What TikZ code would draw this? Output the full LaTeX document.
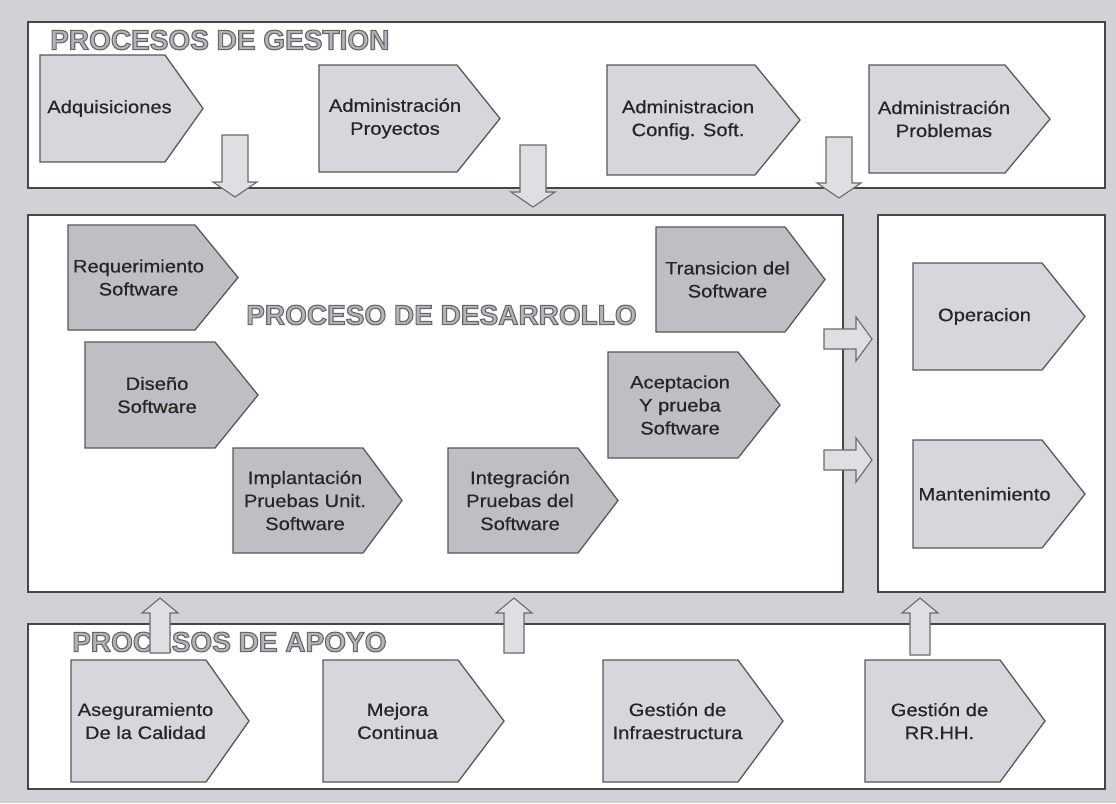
\documentclass[tikz,border=0pt]{standalone}
\usepackage{fontspec}
\setmainfont{Liberation Sans}
\newfontfamily\boxfont[FakeStretch=1.12,FakeBold=0.5]{Liberation Sans}
\newfontfamily\titlefont{Liberation Sans}
\definecolor{band}{RGB}{208,210,214}
\definecolor{frame}{RGB}{70,70,72}
\definecolor{procdark}{RGB}{190,191,196}
\definecolor{proclight}{RGB}{214,214,220}
\definecolor{arrfill}{RGB}{222,223,226}
\definecolor{ttlcol}{RGB}{180,180,186}
\tikzset{
  boxframe/.style={draw=frame, line width=1.8pt, fill=white},
  procline/.style={draw=frame!90, line width=1.3pt, line join=miter},
  proctext/.style={align=center, inner sep=0pt, text=black!85,
    font=\boxfont\fontsize{18}{23}\selectfont},
  blockarr/.style={draw=frame!80, line width=1.1pt, fill=arrfill, line join=miter},
  ttltext/.style={inner sep=0pt, anchor=west, text=ttlcol,
    font=\titlefont\bfseries\fontsize{28}{30}\selectfont},
}
% process shape: name, x1, y1, x-rect-right, x-tip, y2, fill, text
\newcommand\procbox[8]{%
  \draw[procline, fill=#7] (#2,#3) -- (#4,#3) -- (#5,{(#3+#6)/2}) -- (#4,#6) -- (#2,#6) -- cycle;
  \node[proctext] (#1) at ({(#2+#4)/2+7},{(#3+#6)/2}) {#8};
}
% down arrow: name, x, ytop, ytip
\newcommand\downarr[4]{%
  \coordinate (#1) at (#2,#4);
  \draw[blockarr] (#2-13,#3) -- (#2+13,#3) -- (#2+13,#4-15) -- (#2+22,#4-15)
    -- (#1) -- (#2-22,#4-15) -- (#2-13,#4-15) -- cycle;
}
% up arrow: name, x, ybottom, ytip
\newcommand\uparr[4]{%
  \coordinate (#1) at (#2,#4);
  \draw[blockarr] (#2-10,#3) -- (#2+10,#3) -- (#2+10,#4+15) -- (#2+18,#4+15)
    -- (#1) -- (#2-18,#4+15) -- (#2-10,#4+15) -- cycle;
}
% right arrow: name, y, xleft, xtip
\newcommand\rightarr[4]{%
  \coordinate (#1) at (#4,#2);
  \draw[blockarr] (#3,#2-10) -- (#4-16,#2-10) -- (#4-16,#2-22) -- (#1)
    -- (#4-16,#2+22) -- (#4-16,#2+10) -- (#3,#2+10) -- cycle;
}
% outlined title: name, x, y, text
\newcommand\ttl[4]{%
  \node[ttltext] (#1) at (#2,#3)
    {\special{pdf:code q 0.40 0.40 0.42 RG 1.1 w 2 Tr}#4\special{pdf:code 0 Tr Q}};
}
\begin{document}
\begin{tikzpicture}[x=1pt,y=-1pt]
\useasboundingbox (0,0) rectangle (1116,803);
\fill[band] (0,0) rectangle (1116,803);

% frames
\draw[boxframe] (28,22) rectangle (1105,188);
\draw[boxframe] (28,215) rectangle (843,592);
\draw[boxframe] (878,215) rectangle (1105,592);
\draw[boxframe] (28,624) rectangle (1105,789);

% titles
\ttl{tgest}{50}{40}{PROCESOS DE GESTION}
\ttl{tdes}{246}{315}{PROCESO DE DESARROLLO}
\ttl{tapoyo}{72}{642}{PROCESOS DE APOYO}

% gestion
\procbox{adq}{40}{55}{165}{203}{162}{proclight}{Adquisiciones}
\procbox{proy}{319}{65}{457}{500}{172}{proclight}{Administración\\Proyectos}
\procbox{conf}{607}{65}{755}{800}{175}{proclight}{Administracion\\Config. Soft.}
\procbox{prob}{869}{65}{1005}{1050}{173}{proclight}{Administración\\Problemas}

% desarrollo
\procbox{req}{68}{225}{195}{238}{330}{procdark}{Requerimiento\\Software}
\procbox{dis}{85}{342}{215}{258}{448}{procdark}{Diseño\\Software}
\procbox{imp}{233}{448}{363}{402}{553}{procdark}{Implantación\\Pruebas Unit.\\Software}
\procbox{int}{448}{448}{578}{618}{553}{procdark}{Integración\\Pruebas del\\Software}
\procbox{acep}{608}{352}{738}{780}{458}{procdark}{Aceptacion\\Y prueba\\Software}
\procbox{trans}{656}{227}{785}{825}{332}{procdark}{Transicion del\\Software}

% operacion / mantenimiento
\procbox{op}{913}{263}{1042}{1085}{370}{proclight}{Operacion}
\procbox{mant}{913}{440}{1042}{1085}{548}{proclight}{Mantenimiento}

% apoyo
\procbox{aseg}{71}{660}{206}{249}{782}{proclight}{Aseguramiento\\De la Calidad}
\procbox{mejora}{323}{660}{458}{504}{782}{proclight}{Mejora\\Continua}
\procbox{infra}{603}{660}{738}{783}{782}{proclight}{Gestión de\\Infraestructura}
\procbox{rrhh}{865}{660}{1000}{1045}{782}{proclight}{Gestión de\\RR.HH.}

% block arrows
\downarr{d1}{235}{135}{197}
\downarr{d2}{533}{145}{207}
\downarr{d3}{839}{137}{198}
\rightarr{r1}{339}{824}{872}
\rightarr{r2}{460}{824}{872}
\uparr{u1}{160}{653}{598}
\uparr{u2}{514}{653}{598}
\uparr{u3}{920}{655}{598}
\end{tikzpicture}
\end{document}
